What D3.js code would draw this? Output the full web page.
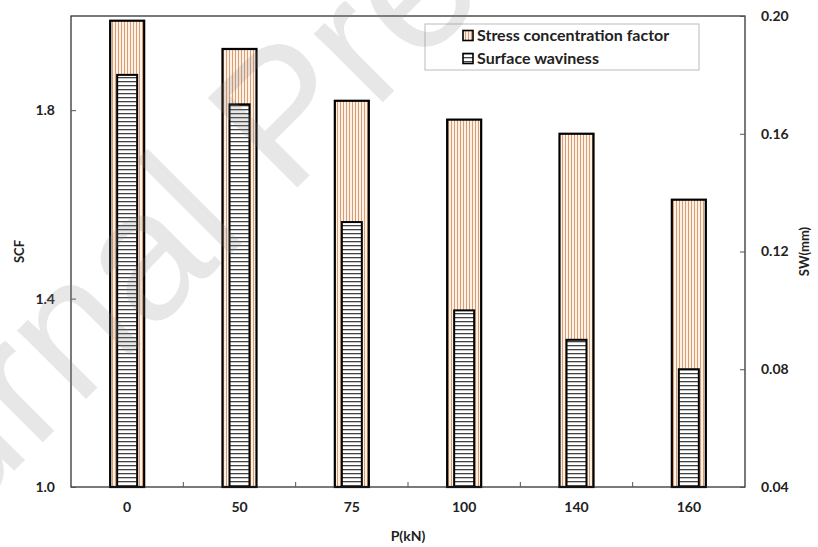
<!DOCTYPE html>
<html><head><meta charset="utf-8">
<script src="https://cdn.jsdelivr.net/npm/d3@7/dist/d3.min.js"></script>
<style>body{margin:0;background:#fff}svg{display:block}</style>
</head><body>
<svg id="c" width="818" height="547"></svg>
<script>
const categories = ["0","50","75","100","140","160"];
const scfValues = [1.99, 1.93, 1.82, 1.78, 1.75, 1.61];
const swValues = [0.18, 0.17, 0.13, 0.10, 0.09, 0.08];
const leftTicks = [1.0, 1.4, 1.8];
const rightTicks = [0.04, 0.08, 0.12, 0.16, 0.20];
const seriesNames = ["Stress concentration factor", "Surface waviness"];

const svg = d3.select("#c");
const W = 818, H = 547;
const m = {l:71, r:73, t:16, b:60};
const x0 = m.l, x1 = W - m.r, y0 = H - m.b, y1 = m.t;

const defs = svg.append("defs");
const pv = defs.append("pattern").attr("id","vstripe").attr("patternUnits","userSpaceOnUse").attr("width",3).attr("height",4);
pv.append("rect").attr("width",3).attr("height",4).attr("fill","#fdf1e6");
pv.append("rect").attr("x",1).attr("width",1).attr("height",4).attr("fill","#d89d72");
const ph = defs.append("pattern").attr("id","hstripe").attr("patternUnits","userSpaceOnUse").attr("width",4).attr("height",4);
ph.append("rect").attr("width",4).attr("height",4).attr("fill","#fff");
ph.append("rect").attr("y",1).attr("width",4).attr("height",1.3).attr("fill","#444");

const x = d3.scaleBand().domain(categories).range([x0, x1]);
const yL = d3.scaleLinear().domain([1.0, 2.0]).range([y0, y1]);
const yR = d3.scaleLinear().domain([0.04, 0.20]).range([y0, y1]);

const font = "Lato, 'Open Sans', sans-serif";

// SCF bars
svg.append("g").selectAll("rect").data(categories).join("rect")
  .attr("x", d => x(d) + x.bandwidth()/2 - 17)
  .attr("width", 34)
  .attr("y", (d,i) => yL(scfValues[i]))
  .attr("height", (d,i) => yL(1.0) - yL(scfValues[i]))
  .attr("fill","url(#vstripe)").attr("stroke","#000").attr("stroke-width",2.2);

// SW bars
svg.append("g").selectAll("rect").data(categories).join("rect")
  .attr("x", d => x(d) + x.bandwidth()/2 - 10)
  .attr("width", 20)
  .attr("y", (d,i) => yR(swValues[i]))
  .attr("height", (d,i) => yR(0.04) - yR(swValues[i]))
  .attr("fill","url(#hstripe)").attr("stroke","#000").attr("stroke-width",2);

// frame
svg.append("rect").attr("x",x0).attr("y",y1).attr("width",x1-x0).attr("height",y0-y1)
  .attr("fill","none").attr("stroke","#222").attr("stroke-width",1.2);

// left axis
const gl = svg.append("g").attr("transform",`translate(${x0},0)`)
  .call(d3.axisLeft(yL).tickValues(leftTicks).tickFormat(d3.format(".1f")).tickSizeInner(-5).tickSizeOuter(0).tickPadding(16));
gl.select(".domain").remove();
gl.selectAll("line").attr("stroke","#555");
gl.selectAll("text").attr("font-family",font).attr("font-weight","bold").attr("font-size",14).attr("fill","#222");

// right axis
const gr = svg.append("g").attr("transform",`translate(${x1},0)`)
  .call(d3.axisRight(yR).tickValues(rightTicks).tickFormat(d3.format(".2f")).tickSizeInner(-5).tickSizeOuter(0).tickPadding(16));
gr.select(".domain").remove();
gr.selectAll("line").attr("stroke","#555");
gr.selectAll("text").attr("font-family",font).attr("font-weight","bold").attr("font-size",14).attr("fill","#222");

// bottom axis: labels
const gb = svg.append("g").attr("transform",`translate(0,${y0})`)
  .call(d3.axisBottom(x).tickSize(0).tickPadding(15));
gb.select(".domain").remove();
gb.selectAll("text").attr("font-family",font).attr("font-weight","bold").attr("font-size",14).attr("fill","#222");
// inward ticks at band boundaries
svg.append("g").selectAll("line").data(categories.slice(1)).join("line")
  .attr("x1", d => x(d)).attr("x2", d => x(d))
  .attr("y1", y0).attr("y2", y0-5).attr("stroke","#555");

// axis titles
svg.append("text").attr("transform",`translate(24,${(y0+y1)/2}) rotate(-90)`).attr("text-anchor","middle")
  .attr("font-family",font).attr("font-weight","bold").attr("font-size",13).attr("fill","#222").text("SCF");
svg.append("text").attr("transform",`translate(809,${(y0+y1)/2}) rotate(-90)`).attr("text-anchor","middle")
  .attr("font-family",font).attr("font-weight","bold").attr("font-size",13).attr("fill","#222").text("SW(mm)");
svg.append("text").attr("x",(x0+x1)/2).attr("y",541).attr("text-anchor","middle")
  .attr("font-family",font).attr("font-weight","bold").attr("font-size",14).attr("fill","#222").text("P(kN)");

// legend
const lg = svg.append("g").attr("transform","translate(425,24)");
lg.append("rect").attr("width",274).attr("height",46).attr("fill","#fff").attr("stroke","#bbb");
const fills = ["url(#vstripe)","url(#hstripe)"];
seriesNames.forEach((n,i) => {
  const yy = 11.5 + i*23;
  lg.append("rect").attr("x",38).attr("y",yy-5).attr("width",10).attr("height",10)
    .attr("fill",fills[i]).attr("stroke","#000").attr("stroke-width",1.6);
  lg.append("text").attr("x",52).attr("y",yy).attr("dy","0.35em")
    .attr("font-family",font).attr("font-weight","bold").attr("font-size",16).attr("fill","#222").text(n);
});

// watermark
svg.append("text").attr("transform","translate(-176,661) rotate(-45)")
  .attr("font-family","'Liberation Sans', Arial, sans-serif").attr("font-size",184)
  .attr("fill","#888").attr("fill-opacity",0.2).attr("pointer-events","none")
  .text("Journal Pre-proof");
</script>
</body></html>
